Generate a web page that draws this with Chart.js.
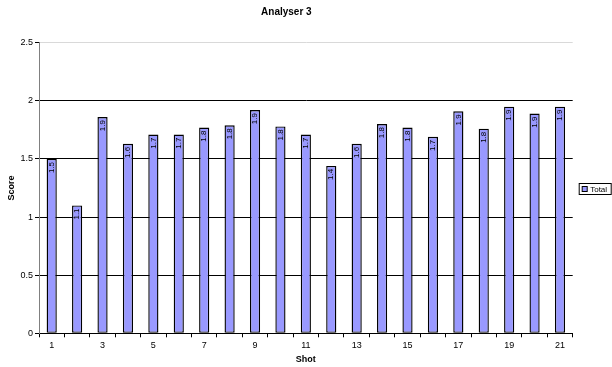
<!DOCTYPE html>
<html>
<head>
<meta charset="utf-8">
<script src="https://cdn.jsdelivr.net/npm/chart.js@4/dist/chart.umd.min.js"></script>
<style>
  html, body { margin: 0; padding: 0; background: #fff; }
  #wrap { width: 612px; height: 367px; position: relative; }
</style>
</head>
<body>
<div id="wrap"><canvas id="c" width="612" height="367"></canvas></div>
<script>
// Shot numbers along the x axis
const shots = ['1','2','3','4','5','6','7','8','9','10','11','12','13','14','15','16','17','18','19','20','21'];
// Total score per shot
const totals = [1.50, 1.10, 1.86, 1.63, 1.71, 1.71, 1.77, 1.79, 1.92, 1.78, 1.71, 1.44, 1.63, 1.80, 1.77, 1.69, 1.91, 1.76, 1.95, 1.89, 1.95];
// Y axis tick values
const scoreTicks = [0, 0.5, 1, 1.5, 2, 2.5];

const FONT = "'Liberation Sans', Arial, sans-serif";
const BAR_FILL = '#9999FF';

// Rotated value labels drawn inside the top of each bar
const valueLabels = {
  id: 'valueLabels',
  afterDatasetsDraw(chart) {
    const ctx = chart.ctx;
    const meta = chart.getDatasetMeta(0);
    ctx.save();
    ctx.font = '8px ' + FONT;
    ctx.fillStyle = '#000';
    meta.data.forEach((bar, i) => {
      const v = chart.data.datasets[0].data[i];
      ctx.save();
      ctx.translate(bar.x, bar.y + 3);
      ctx.rotate(-Math.PI / 2);
      ctx.textAlign = 'right';
      ctx.textBaseline = 'middle';
      ctx.fillText(v.toFixed(1), 0, 0);
      ctx.restore();
    });
    ctx.restore();
  }
};

// Boxed legend to the right of the plot
const boxedLegend = {
  id: 'boxedLegend',
  afterDraw(chart) {
    const ctx = chart.ctx;
    const ds = chart.data.datasets[0];
    const x0 = chart.chartArea.right + 6.5, y0 = 183.5, w = 32, h = 11;
    ctx.save();
    ctx.strokeStyle = '#000';
    ctx.lineWidth = 1;
    ctx.fillStyle = '#fff';
    ctx.fillRect(x0, y0, w, h);
    ctx.strokeRect(x0, y0, w, h);
    ctx.fillStyle = ds.backgroundColor;
    ctx.fillRect(x0 + 3, y0 + 3, 5, 5);
    ctx.strokeRect(x0 + 3, y0 + 3, 5, 5);
    ctx.fillStyle = '#000';
    ctx.font = '8px ' + FONT;
    ctx.textAlign = 'left';
    ctx.textBaseline = 'middle';
    ctx.fillText(ds.label, x0 + 11, y0 + h / 2 + 0.5);
    ctx.restore();
  }
};

new Chart(document.getElementById('c'), {
  type: 'bar',
  data: {
    labels: shots,
    datasets: [{
      label: 'Total',
      data: totals,
      backgroundColor: BAR_FILL,
      borderColor: '#000',
      borderWidth: 1.4,
      borderSkipped: false,
      inflateAmount: 0,
      barPercentage: 0.4,
      categoryPercentage: 1.0
    }]
  },
  options: {
    responsive: false,
    animation: false,
    devicePixelRatio: 1,
    layout: { padding: { left: 0, right: 39.3, top: 0, bottom: 0 } },
    plugins: {
      legend: { display: false },
      tooltip: { enabled: false },
      title: {
        display: true,
        text: 'Analyser 3',
        color: '#000',
        font: { family: FONT, size: 10, weight: 'bold', lineHeight: 1.2 },
        padding: { top: 6.5, bottom: 24.2 }
      }
    },
    scales: {
      x: {
        type: 'category',
        offset: true,
        grid: {
          offset: true,
          drawOnChartArea: false,
          drawTicks: true,
          tickLength: 4,
          tickColor: '#000'
        },
        border: { display: true, color: '#000', width: 1 },
        ticks: {
          autoSkip: false,
          maxRotation: 0,
          minRotation: 0,
          padding: 3,
          color: '#000',
          font: { family: FONT, size: 9 },
          callback: (val, idx) => (idx % 2 === 0 ? shots[idx] : '')
        },
        title: {
          display: true,
          text: 'Shot',
          color: '#000',
          font: { family: FONT, size: 9, weight: 'bold', lineHeight: 1.2 },
          padding: { top: 2, bottom: 1.6 }
        },
        afterFit(scale) { scale.height = 33.7; }
      },
      y: {
        min: 0,
        max: 2.5,
        afterBuildTicks(scale) { scale.ticks = scoreTicks.map(v => ({ value: v })); },
        grid: {
          color: (ctx) => (ctx.tick && ctx.tick.value === 2.5 ? '#d9d9d9' : '#000'),
          tickColor: '#000',
          drawTicks: true,
          tickLength: 4
        },
        border: { display: true, color: '#808080', width: 1 },
        ticks: {
          padding: 2,
          color: '#000',
          font: { family: FONT, size: 9 },
          callback: (v) => String(v)
        },
        title: {
          display: true,
          text: 'Score',
          color: '#000',
          font: { family: FONT, size: 9, weight: 'bold', lineHeight: 1.2 },
          padding: { top: 6.3, bottom: 0 }
        },
        afterFit(scale) { scale.width = 39; }
      }
    }
  },
  plugins: [valueLabels, boxedLegend]
});
</script>
</body>
</html>
